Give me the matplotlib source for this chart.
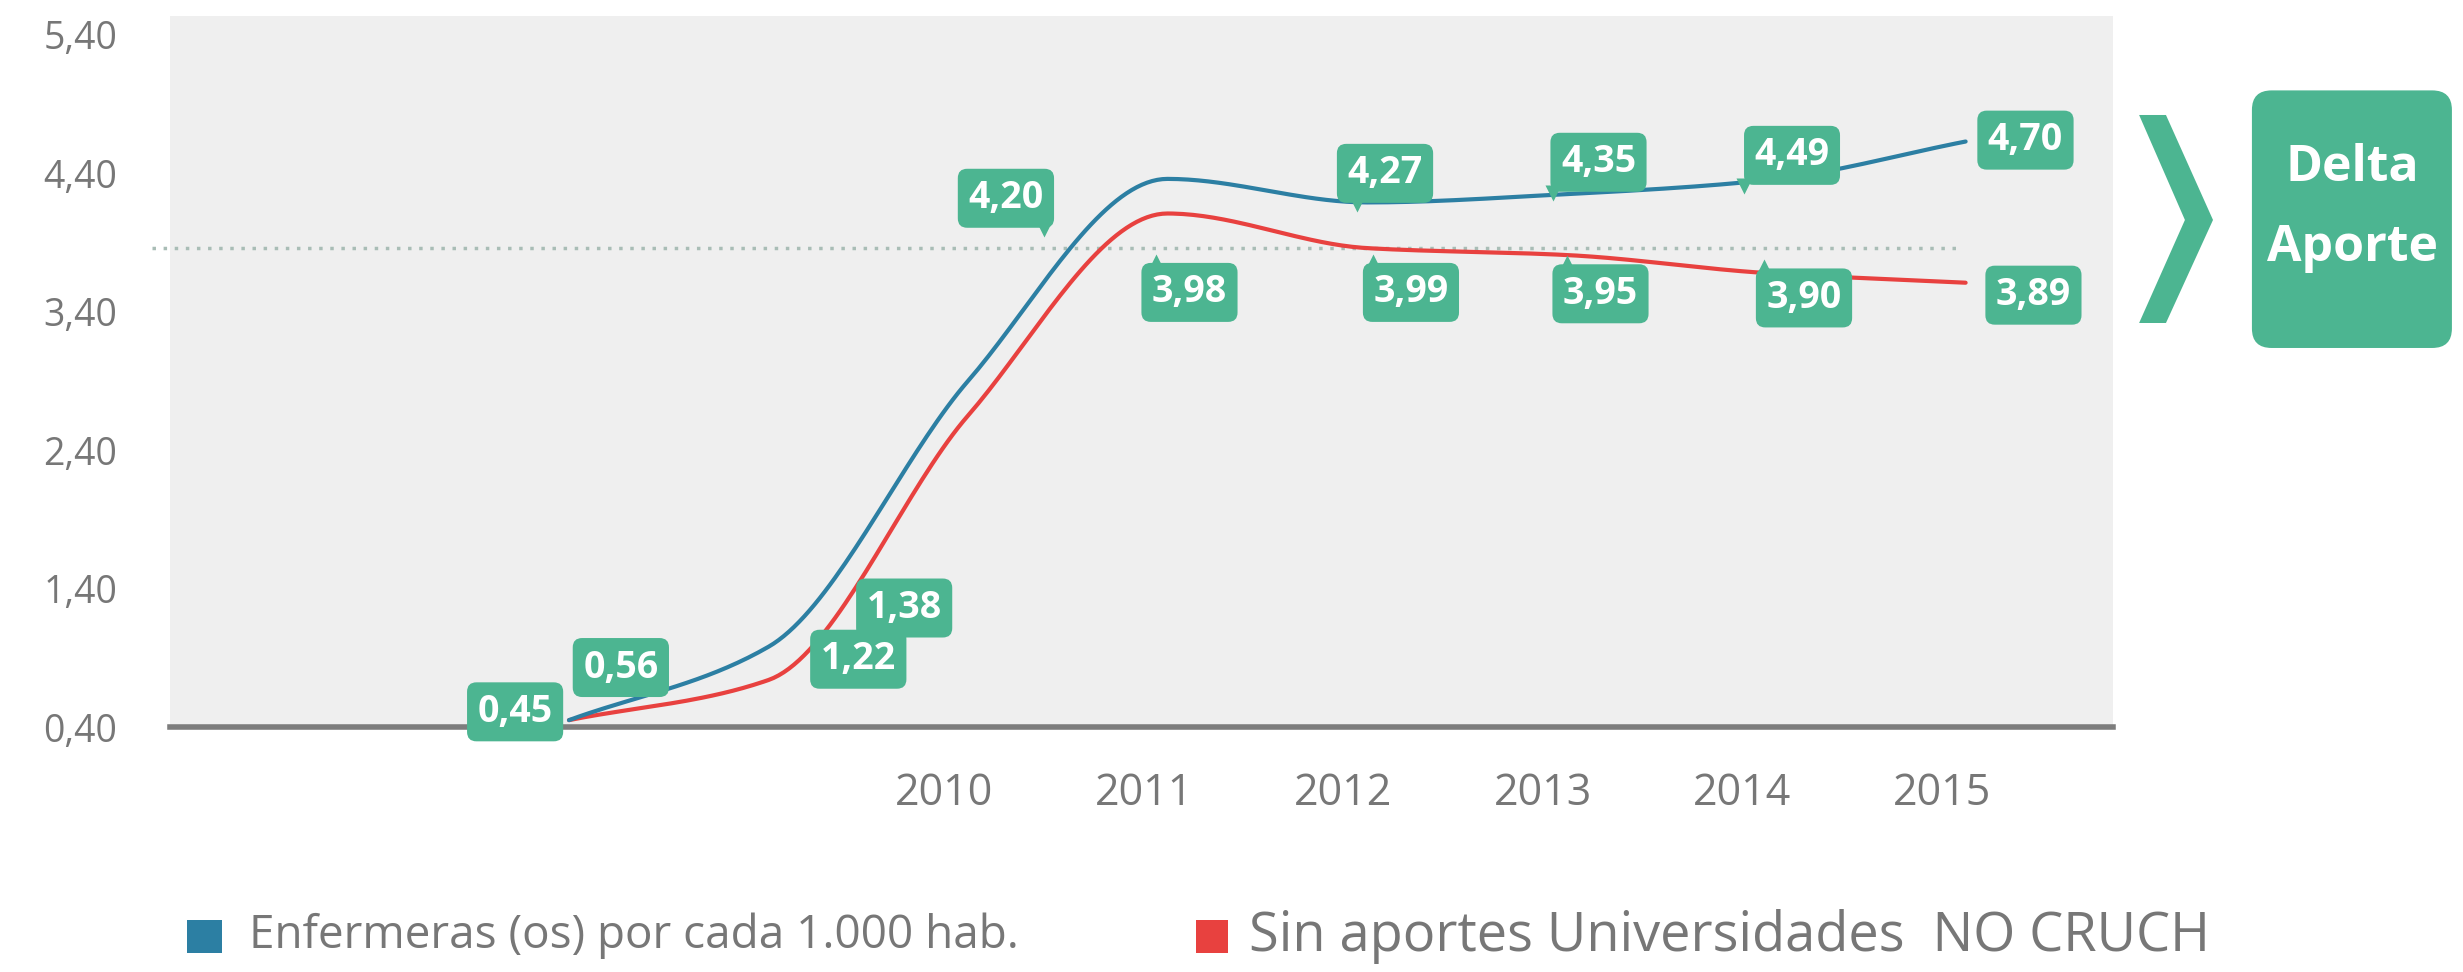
import matplotlib
matplotlib.use("Agg")
import matplotlib.pyplot as plt
import numpy as np
from matplotlib.patches import FancyBboxPatch, Polygon, Rectangle

# data
years = [2008, 2009, 2010, 2011, 2012, 2013, 2014, 2015]
tick_years = [2010, 2011, 2012, 2013, 2014, 2015]
blue_vals = [0.45, 0.98, 2.90, 4.36, 4.19, 4.25, 4.35, 4.63]
red_vals = [0.45, 0.74, 2.65, 4.11, 3.86, 3.81, 3.68, 3.61]
ref_level = 3.86

blue_labels = ["0,45", "0,56", "1,38", "4,20", "4,27", "4,35", "4,49", "4,70"]
red_labels = ["1,22", "3,98", "3,99", "3,95", "3,90", "3,89"]
# where the label boxes sit (x in year index, y in data units)
blue_label_pos = [(-0.27, 0.51), (0.26, 0.83), (1.68, 1.26), (2.19, 4.22),
                  (4.09, 4.40), (5.16, 4.48), (6.13, 4.53), (7.30, 4.64)]
red_label_pos = [(1.45, 0.89), (3.11, 3.54), (4.22, 3.54), (5.17, 3.53),
                 (6.19, 3.50), (7.34, 3.52)]
# little pointer under (v) or over (^) some boxes: (label index, x, direction)
blue_tails = [(3, 2.38, "v"), (4, 3.95, "v"), (5, 4.93, "v"), (6, 5.89, "v")]
red_tails = [(1, 2.94, "^"), (2, 4.03, "^"), (3, 5.00, "^"), (4, 5.99, "^")]

legend_names = ["Enfermeras (os) por cada 1.000 hab.",
                "Sin aportes Universidades  NO CRUCH"]

BLUE = "#2c7fa3"
RED = "#e8413f"
GREEN = "#4cb591"
GRAY_TXT = "#777777"

plt.rcParams["font.family"] = ["Open Sans", "DejaVu Sans"]


def pchip(x, y, n=40):
    # monotone cubic, so peaks stay on the points
    x = np.asarray(x, float)
    y = np.asarray(y, float)
    h = np.diff(x)
    d = np.diff(y) / h
    m = np.zeros_like(y)
    for i in range(1, len(y) - 1):
        if d[i - 1] * d[i] > 0:
            w1 = 2 * h[i] + h[i - 1]
            w2 = h[i] + 2 * h[i - 1]
            m[i] = (w1 + w2) / (w1 / d[i - 1] + w2 / d[i])
    m[0] = d[0]
    m[-1] = d[-1]
    xs, ys = [], []
    for i in range(len(x) - 1):
        t = np.linspace(0, 1, n)
        h00 = 2 * t**3 - 3 * t**2 + 1
        h10 = t**3 - 2 * t**2 + t
        h01 = -2 * t**3 + 3 * t**2
        h11 = t**3 - t**2
        xs.append(x[i] + t * h[i])
        ys.append(h00 * y[i] + h10 * h[i] * m[i] + h01 * y[i + 1] + h11 * h[i] * m[i + 1])
    return np.concatenate(xs), np.concatenate(ys)


fig = plt.figure(figsize=(24.63, 9.72), dpi=100)
ax = fig.add_axes([0.069, 0.252, 0.789, 0.732])
ax.set_facecolor("#efefef")

idx = np.arange(len(years))
bx, by = pchip(idx, blue_vals)
rx, ry = pchip(idx, red_vals)
ax.plot(bx, by, color=BLUE, lw=3.0, zorder=3, solid_capstyle="round")
ax.plot(rx, ry, color=RED, lw=3.0, zorder=2, solid_capstyle="round")

ax.plot([-2.09, 6.96], [ref_level, ref_level], ls=(0, (1, 2.2)), lw=2.5,
        color="#a9bdb6", clip_on=False, zorder=1)

for lab, (x, y) in zip(blue_labels + red_labels, blue_label_pos + red_label_pos):
    ax.text(x, y, lab, ha="center", va="center", color="white", fontsize=27,
            fontweight="bold", zorder=5,
            bbox=dict(boxstyle="round,pad=0.28,rounding_size=0.25", fc=GREEN, ec="none"))

half_box = 0.19
for tails, pos in [(blue_tails, blue_label_pos), (red_tails, red_label_pos)]:
    for i, tx, mk in tails:
        cy = pos[i][1]
        ty = cy - half_box - 0.03 if mk == "v" else cy + half_box + 0.03
        ax.plot(tx, ty, marker=mk, ms=11, color=GREEN, mec="none", zorder=4)

ax.set_xlim(-2.0, 7.74)
ax.set_ylim(0.4, 5.54)
ax.set_yticks([0.4, 1.4, 2.4, 3.4, 4.4, 5.4])
ax.set_yticklabels([f"{v:.2f}".replace(".", ",") for v in [0.4, 1.4, 2.4, 3.4, 4.4, 5.4]],
                   fontsize=27, color=GRAY_TXT)
# year labels sit a little left of the points in the original
ax.set_xticks([years.index(y) - 0.12 for y in tick_years])
ax.set_xticklabels([str(y) for y in tick_years], fontsize=31, color=GRAY_TXT)
ax.tick_params(axis="y", length=0, pad=38)
ax.tick_params(axis="x", length=0, pad=32)
for s in ["top", "right", "left"]:
    ax.spines[s].set_visible(False)
ax.spines["bottom"].set_color("#7d7d7d")
ax.spines["bottom"].set_linewidth(4)

# legend
fig.patches.append(Rectangle((0.076, 0.02), 0.014, 0.034, transform=fig.transFigure,
                             fc=BLUE, ec="none"))
fig.text(0.101, 0.037, legend_names[0], fontsize=33, color=GRAY_TXT, va="center")
fig.patches.append(Rectangle((0.4856, 0.02), 0.013, 0.034, transform=fig.transFigure,
                             fc=RED, ec="none"))
fig.text(0.507, 0.037, legend_names[1], fontsize=39, color=GRAY_TXT, va="center")

# chevron and Delta Aporte box
fig.patches.append(Polygon([(0.8685, 0.8817), (0.8794, 0.8817), (0.8985, 0.7737),
                            (0.8794, 0.6677), (0.8685, 0.6677), (0.8871, 0.7737)],
                           closed=True, transform=fig.transFigure, fc=GREEN, ec="none"))
fig.patches.append(FancyBboxPatch((0.9143, 0.642), 0.0812, 0.265, transform=fig.transFigure,
                                  boxstyle="round,pad=0,rounding_size=0.008",
                                  fc=GREEN, ec="none", mutation_aspect=2.5))
fig.text(0.955, 0.786, "Delta\nAporte", ha="center", va="center", color="white",
         fontsize=36, fontweight="bold", linespacing=1.8)

fig.savefig("out.png", dpi=100)
